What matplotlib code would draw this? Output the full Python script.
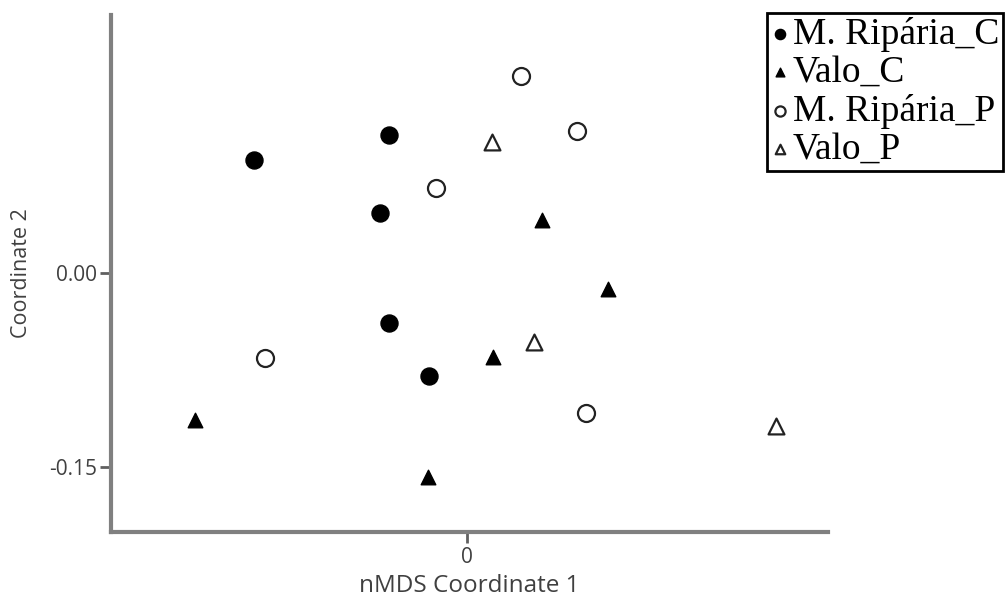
import matplotlib.pyplot as plt

# nMDS scores
rip_c_x = [-0.165, -0.060, -0.067, -0.060, -0.029]
rip_c_y = [0.087, 0.107, 0.046, -0.039, -0.080]
valo_c_x = [0.058, 0.109, 0.020, -0.210, -0.030]
valo_c_y = [0.041, -0.012, -0.065, -0.114, -0.158]
rip_p_x = [0.042, 0.085, -0.024, -0.156, 0.092]
rip_p_y = [0.152, 0.110, 0.066, -0.066, -0.108]
valo_p_x = [0.019, 0.052, 0.239]
valo_p_y = [0.101, -0.053, -0.118]
labels = ['M. Ripária_C', 'Valo_C', 'M. Ripária_P', 'Valo_P']

fig = plt.figure(figsize=(10.06, 6.12), dpi=100)
ax = fig.add_axes([0.1103, 0.1307, 0.7128, 0.8448])

ax.scatter(rip_c_x, rip_c_y, s=150, marker='o', c='black', label=labels[0])
ax.scatter(valo_c_x, valo_c_y, s=110, marker='^', c='black', label=labels[1])
ax.scatter(rip_p_x, rip_p_y, s=150, marker='o', facecolors='white',
           edgecolors='#222222', linewidths=1.6, label=labels[2])
ax.scatter(valo_p_x, valo_p_y, s=130, marker='^', facecolors='white',
           edgecolors='#222222', linewidths=1.6, label=labels[3])

ax.set_xlim(-0.2753, 0.2792)
ax.set_ylim(-0.2003, 0.1995)
ax.set_xticks([0])
ax.set_xticklabels(['0'])
ax.set_yticks([0.0, -0.15])
ax.set_yticklabels(['0.00', '-0.15'])

for side in ['top', 'right']:
    ax.spines[side].set_visible(False)
for side in ['left', 'bottom']:
    ax.spines[side].set_color('#808080')
    ax.spines[side].set_linewidth(3)
ax.tick_params(colors='#404040', length=8, width=2, pad=2)
ax.tick_params(axis='y', labelsize=15)
ax.tick_params(axis='x', labelsize=15, pad=3)
for t in ax.get_xticklabels() + ax.get_yticklabels():
    t.set_fontfamily('Open Sans')
ax.tick_params(axis='both', color='#606060')

ax.set_xlabel('nMDS Coordinate 1', family='Open Sans', fontsize=17.5,
              color='#404040', labelpad=4)
ax.set_ylabel('Coordinate 2', family='Open Sans', fontsize=15.5,
              color='#404040', labelpad=12)

leg = fig.legend(loc='upper right', bbox_to_anchor=(0.997, 0.979),
                 prop={'family': 'Liberation Serif', 'size': 27},
                 markerscale=0.6, handletextpad=0.1, handlelength=0.5,
                 labelspacing=0.1, borderpad=0.1, borderaxespad=0,
                 fancybox=False, framealpha=1)
leg.get_frame().set_edgecolor('black')
leg.get_frame().set_linewidth(2)

fig.savefig('out.png', dpi=100)
